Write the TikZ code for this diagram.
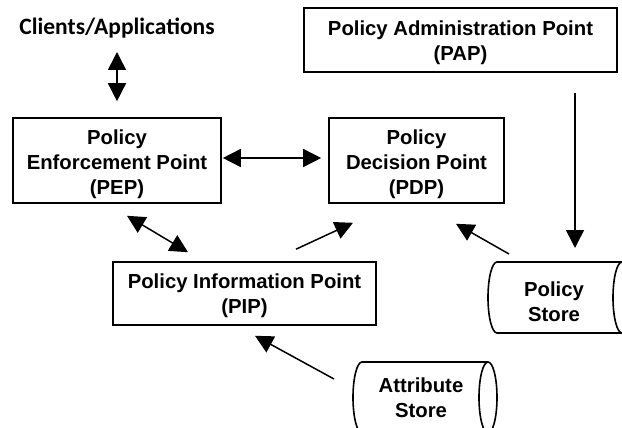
\documentclass[tikz,border=0pt]{standalone}
\usepackage{fontspec}
\setmainfont{Liberation Sans}
\newfontfamily\clientfont{Carlito}
\usetikzlibrary{arrows.meta,calc}

\begin{document}
\begin{tikzpicture}[x=1pt,y=-1pt,
  txt/.style={align=center, inner sep=0pt, font=\fontsize{20.3}{25}\selectfont\bfseries},
  box/.style={draw, line width=1.6pt, inner sep=0pt},
  conn/.style={line width=1.5pt, -{Triangle[length=18pt,width=18pt]}},
  both/.style={line width=1.5pt, {Triangle[length=18pt,width=18pt]}-{Triangle[length=18pt,width=18pt]}},
  store/.style={line width=1.6pt}]
\useasboundingbox (0,0) rectangle (622,428);
\clip (0,0) rectangle (622,428);

% components: frame first, then its caption set a little below centre
\node[anchor=base, inner sep=0pt, font=\clientfont\fontsize{23.5}{28}\selectfont\bfseries] (clients) at (117,35) {Clients/Applications};

\node[box, minimum width=208pt, minimum height=85pt] (pep) at (117,160.5) {};
\node[txt] (peptxt) at ([yshift=-4pt]pep.center) {Policy\\Enforcement Point\\(PEP)};

\node[box, minimum width=175pt, minimum height=85pt] (pdp) at (416.5,160.5) {};
\node[txt] (pdptxt) at ([yshift=-4pt]pdp.center) {Policy\\Decision Point\\(PDP)};

\node[box, minimum width=313pt, minimum height=64pt] (pap) at (460.5,40) {};
\node[txt] (paptxt) at ([yshift=-3pt]pap.center) {Policy Administration Point\\(PAP)};

\node[box, minimum width=263pt, minimum height=63pt] (pip) at (244.5,293.5) {};
\node[txt] (piptxt) at ([yshift=-2.5pt]pip.center) {Policy Information Point\\(PIP)};

% data stores (horizontal cylinders)
\draw[store] (622,262) -- (497,262) arc[start angle=270, end angle=90, x radius=9, y radius=35.5] -- (622,333);
\draw[store] (622,297.5) ellipse[x radius=9, y radius=35.5];
\node[txt] (ps) at (554,302) {Policy\\Store};

\draw[store] (488,362) -- (362,362) arc[start angle=270, end angle=90, x radius=9, y radius=35.5] -- (488,433);
\draw[store] (488,397.5) ellipse[x radius=9, y radius=35.5];
\node[txt] (as) at (421,397.5) {Attribute\\Store};

% connectors
\draw[both] ([yshift=-17pt]clients.base) -- ([yshift=16pt]pep.north);
\draw[both] ([xshift=1pt,yshift=2.5pt]pep.east) -- ([xshift=-7pt,yshift=2.5pt]pdp.west);
\draw[both] ([xshift=10pt,yshift=-12pt]pep.south) -- ([xshift=-56.5pt,yshift=9pt]pip.north);
\draw[conn] ([xshift=51.5pt,yshift=12pt]pip.north) -- ([xshift=-63.5pt,yshift=-19pt]pdp.south);
\draw[conn] ([xshift=-45pt,yshift=48pt]ps.center) -- ([xshift=39.5pt,yshift=-20pt]pdp.south);
\draw[conn] ([xshift=114.5pt,yshift=-20pt]pap.south) -- ([xshift=21pt,yshift=54pt]ps.center);
\draw[conn] ([xshift=-87pt,yshift=18.5pt]as.center) -- ([xshift=10.5pt,yshift=-10pt]pip.south);
\end{tikzpicture}
\end{document}
